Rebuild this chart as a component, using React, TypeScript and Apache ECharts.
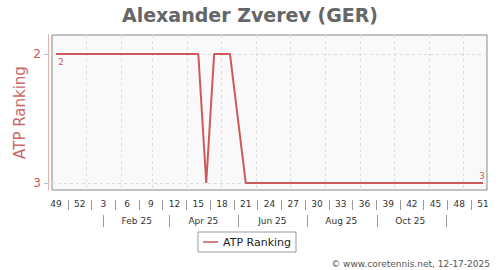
import { useEffect, useRef } from 'react';
import * as echarts from 'echarts';

// ISO week numbers of the weekly ranking releases (Dec 2024 – Dec 2025)
const weekLabels = [
  '49', '50', '51', '52',
  '1', '2', '3', '4', '5', '6', '7', '8', '9', '10', '11', '12', '13', '14', '15', '16', '17', '18', '19', '20',
  '21', '22', '23', '24', '25', '26', '27', '28', '29', '30', '31', '32', '33', '34', '35', '36', '37', '38', '39', '40',
  '41', '42', '43', '44', '45', '46', '47', '48', '49', '50', '51',
];

// ATP ranking per week (null = no ranking release that week)
const rankings: (number | null)[] = [
  2, 2, 2, 2, 2, 2, 2, 2, 2, 2, 2, 2, 2, 2, 2, 2, 2, 2, 2,
  3,
  2, 2, 2,
  null,
  3, 3, 3, 3, 3, 3, 3, 3, 3, 3, 3, 3, 3, 3, 3, 3, 3, 3, 3, 3, 3, 3, 3, 3, 3, 3, 3, 3, 3, 3, 3,
];

const yTicks = [2, 3];
const firstWeekMonday = '2024-12-02';
const monthLabelDates = ['2025-02-15', '2025-04-15', '2025-06-15', '2025-08-15', '2025-10-15'];
const monthSeparatorDates = ['2025-01-16', '2025-03-16', '2025-05-16', '2025-07-16', '2025-09-16', '2025-11-16'];
const monthNames = ['Jan', 'Feb', 'Mar', 'Apr', 'May', 'Jun', 'Jul', 'Aug', 'Sep', 'Oct', 'Nov', 'Dec'];

const FONT = 'DejaVu Sans';
const RED = '#cc5a5a';

function buildDayBoundaries(): string[] {
  const [y, m, d] = firstWeekMonday.split('-').map(Number);
  const start = Date.UTC(y, m - 1, d);
  const n = weekLabels.length * 7 + 1;
  const out: string[] = [];
  for (let i = 0; i < n; i++) {
    out.push(new Date(start + i * 86400000).toISOString().slice(0, 10));
  }
  return out;
}

export default function App() {
  const ref = useRef<HTMLDivElement>(null);
  useEffect(() => {
    const chart = echarts.init(ref.current!, null, { renderer: 'svg' });
    const days = buildDayBoundaries();
    const weekBounds = Array.from({ length: weekLabels.length + 1 }, (_, i) => 'b' + i);
    const last = rankings.length - 1;
    const seriesData = rankings.map((v, i) => {
      if (i === 0) return { value: v, label: { show: true, position: 'bottom', distance: 4, offset: [5, 0] } };
      if (i === last) return { value: v, label: { show: true, position: 'top', distance: 3, offset: [-1, 0] } };
      return v;
    });

    chart.setOption({
      animation: false,
      textStyle: { fontFamily: FONT },
      title: {
        text: 'Alexander Zverev (GER)',
        left: 'center',
        top: 0,
        textStyle: { fontSize: 19, fontWeight: 'bold', color: '#666', fontFamily: FONT },
      },
      legend: {
        left: 198,
        top: 232,
        padding: [3, 5],
        itemWidth: 15,
        itemHeight: 2,
        itemGap: 5,
        borderColor: '#999',
        borderWidth: 1,
        textStyle: { fontSize: 11, color: '#222', fontFamily: FONT, lineHeight: 14 },
        data: [{ name: 'ATP Ranking', icon: 'rect', itemStyle: { color: '#d98080' } }],
      },
      graphic: [
        {
          type: 'text',
          right: 10,
          top: 259,
          style: { text: '© www.coretennis.net, 12-17-2025', font: '9px "DejaVu Sans"', fill: '#555' },
        },
      ],
      grid: {
        left: 52,
        right: 13,
        top: 35,
        bottom: 80,
        show: true,
        backgroundColor: '#f9f9f9',
        borderColor: '#888',
        borderWidth: 1,
      },
      xAxis: [
        {
          type: 'category',
          position: 'bottom',
          data: weekLabels,
          boundaryGap: true,
          axisLine: { show: false },
          axisTick: { show: false },
          axisLabel: { interval: 2, margin: 9, fontSize: 9, color: '#333', fontFamily: FONT },
          splitLine: { show: false },
        },
        {
          type: 'category',
          position: 'bottom',
          data: weekBounds,
          boundaryGap: false,
          offset: 10,
          axisLine: { show: false },
          axisLabel: { show: false },
          axisTick: {
            show: true,
            length: 10,
            interval: (i: number) => i > 0 && (i - 2) % 3 === 0,
            lineStyle: { color: '#999' },
          },
          splitLine: { show: false },
        },
        {
          type: 'category',
          position: 'bottom',
          data: days,
          boundaryGap: false,
          axisLine: { show: false },
          axisLabel: { show: false },
          axisTick: { show: false },
          splitLine: {
            show: true,
            interval: (_i: number, v: string) => v.endsWith('-01'),
            lineStyle: { color: '#ddd', type: [3, 3] },
          },
        },
        {
          type: 'category',
          position: 'bottom',
          data: days,
          boundaryGap: false,
          offset: 25,
          axisLine: { show: false },
          axisTick: {
            show: true,
            length: 12,
            interval: (_i: number, v: string) => monthSeparatorDates.includes(v),
            lineStyle: { color: '#999' },
          },
          axisLabel: {
            interval: (_i: number, v: string) => monthLabelDates.includes(v),
            formatter: (v: string) => monthNames[Number(v.slice(5, 7)) - 1] + ' ' + v.slice(2, 4),
            margin: 1,
            fontSize: 9,
            color: '#333',
            fontFamily: FONT,
          },
          splitLine: { show: false },
        },
      ],
      yAxis: {
        type: 'value',
        inverse: true,
        min: 1.853,
        max: 3.054,
        offset: 4,
        name: 'ATP Ranking',
        nameLocation: 'middle',
        nameGap: 21,
        nameMoveOverlap: false,
        nameTextStyle: { color: '#cc6666', fontSize: 15, fontFamily: FONT },
        axisLine: { show: true, lineStyle: { color: '#e3b0b0' } },
        axisTick: { show: true, length: 4, customValues: yTicks, lineStyle: { color: '#bbb' } },
        axisLabel: { customValues: yTicks, color: '#cc5555', fontSize: 12, margin: 7, fontFamily: FONT },
        splitLine: { show: true, lineStyle: { color: '#ddd', type: [3, 3] } },
      },
      series: [
        {
          name: 'ATP Ranking',
          type: 'line',
          xAxisIndex: 0,
          data: seriesData,
          connectNulls: true,
          symbol: 'circle',
          symbolSize: 0,
          showSymbol: true,
          lineStyle: { color: RED, width: 2 },
          itemStyle: { color: RED },
          label: { show: false, fontFamily: 'DejaVu Sans Mono', fontSize: 9, color: RED },
        },
      ],
    });
    return () => chart.dispose();
  }, []);
  return <div ref={ref} style={{ position: 'absolute', left: 0, top: 0, width: 500, height: 270 }} />;
}
